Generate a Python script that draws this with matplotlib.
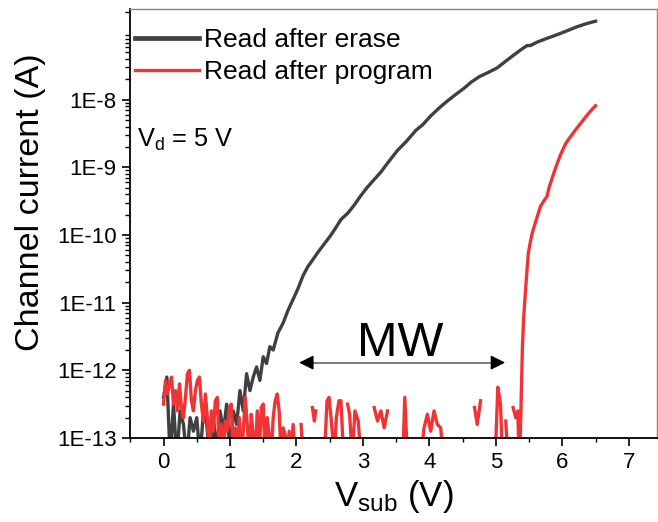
import numpy as np
import matplotlib.pyplot as plt
from matplotlib.lines import Line2D

plt.rcParams['font.family'] = ['Liberation Sans', 'DejaVu Sans']
plt.rcParams['mathtext.default'] = 'regular'

# read after erase: substrate voltage (V) and log10 of channel current (A)
erase_v = [0.00, 0.05, 0.10, 0.15, 0.20, 0.25, 0.30, 0.35, 0.40, 0.45, 0.50,
           0.55, 0.60, 0.65, 0.70, 0.75, 0.80, 0.85, 0.90, 0.95, 1.00, 1.05,
           1.10, 1.15, 1.20, 1.25, 1.30, 1.35, 1.40, 1.45, 1.50, 1.55, 1.60,
           1.65, 1.72, 1.80, 1.87, 1.95, 2.02, 2.10, 2.17, 2.25, 2.32, 2.42,
           2.52, 2.60, 2.67, 2.77, 2.86, 2.96, 3.07, 3.17, 3.27, 3.40, 3.52,
           3.65, 3.80, 3.90, 4.02, 4.15, 4.27, 4.40, 4.51, 4.63, 4.75, 4.88,
           5.02, 5.15, 5.27, 5.38, 5.47, 5.52, 5.62, 5.75, 5.92, 6.05, 6.20,
           6.35, 6.46, 6.50]
erase_log_i = [-12.4, -12.1, -13.3, -12.5, -13.3, -12.6, -12.8, -13.3, -12.7,
               -12.9, -12.7, -13.3, -12.6, -12.8, -13.3, -12.7, -13.2, -12.6,
               -12.9, -12.5, -13.2, -12.6, -12.8, -12.3, -12.6, -12.05, -12.3,
               -12.1, -11.95, -12.15, -11.8, -11.9, -11.65, -11.7, -11.45,
               -11.3, -11.12, -10.95, -10.8, -10.6, -10.47, -10.36, -10.26,
               -10.13, -10.0, -9.88, -9.77, -9.68, -9.57, -9.43, -9.29, -9.18,
               -9.07, -8.9, -8.75, -8.62, -8.45, -8.37, -8.24, -8.12, -8.02,
               -7.92, -7.84, -7.74, -7.66, -7.6, -7.53, -7.43, -7.34, -7.26,
               -7.2, -7.2, -7.15, -7.1, -7.04, -6.99, -6.93, -6.88, -6.85,
               -6.84]

# read after program (nan = negative current, not drawn on log axis)
program_v = [0.00, 0.03, 0.06, 0.09, 0.12, 0.15, 0.18, 0.21, 0.24, 0.27, 0.30,
             0.33, 0.36, 0.39, 0.42, 0.45, 0.48, 0.51, 0.54, 0.57, 0.60, 0.63,
             0.66, 0.69, 0.72, 0.75, 0.78, 0.81, 0.84, 0.87, 0.90, 0.93, 0.96,
             0.99, 1.02, 1.05, 1.08, 1.11, 1.14, 1.17, 1.20, 1.23, 1.26, 1.29,
             1.32, 1.35, 1.38, 1.41, 1.44, 1.47, 1.50, 1.53, 1.56, 1.59, 1.62,
             1.65, 1.68, 1.71, 1.74, 1.77, 1.80, 1.83, 1.86, 1.89, 1.92, 1.95,
             1.98, 2.01, 2.07, 2.10, 2.13, 2.18, 2.24, 2.27, 2.29, 2.33,
             2.42, 2.46, 2.49, 2.53, 2.57, 2.60, 2.64, 2.67, 2.71, 2.74,
             2.77, 2.80, 2.84, 2.88, 2.93, 2.97, 3.01, 3.12, 3.17, 3.22,
             3.27, 3.32, 3.37, 3.42, 3.57, 3.60, 3.63, 3.67, 3.71, 3.82,
             3.87, 3.92, 3.97, 4.02, 4.07, 4.12, 4.17, 4.21, 4.40, 4.65,
             4.68, 4.72, 4.77, 4.85, 4.99, 5.03, 5.07, 5.10, 5.13, 5.15, 5.18,
             5.21, 5.26, 5.30, 5.33, 5.35, 5.37, 5.38, 5.40, 5.42, 5.44, 5.47,
             5.49, 5.52, 5.55, 5.60, 5.67, 5.72, 5.77, 5.80, 5.86, 5.92, 5.97,
             6.05, 6.12, 6.22, 6.30, 6.38, 6.46, 6.50]
program_log_i = [-12.5, -12.15, -12.35, -12.2, -12.1, -12.5, -12.3, -12.6,
                 -12.2, -12.55, -12.7, -12.4, -12.05, -12.0, -12.45, -12.6,
                 -12.3, -12.15, -12.1, -12.5, -12.75, -12.35, -12.7, -13.3,
                 -12.6, -12.9, -12.45, -12.4, -13.3, -12.8, -13.3, -12.75,
                 -12.9, -12.55, -12.5, -13.3, -12.85, -13.3, -12.7, -13.3,
                 -12.9, -12.4, -12.8, -13.3, -12.65, -12.95, -13.3, -12.6,
                 -13.3, -12.55, -12.5, -13.3, -12.7, -12.95, -13.3, -12.7,
                 -12.45, -12.35, -12.6, -13.3, -12.85, -12.95, -13.3, -12.9,
                 -13.3, -12.8, -13.3, np.nan, -12.8, -13.3, np.nan,
                 np.nan, -12.55, -12.75, -12.6, np.nan,
                 -13.3, -12.45, -12.4, -12.8, -13.3, -12.7, -12.45, -12.45,
                 -13.3, np.nan, -12.5, -12.65, -13.3, -12.6, -12.75, -13.3,
                 np.nan, np.nan, -12.55, -12.75, -12.6, -12.85, -12.6, np.nan,
                 np.nan, -13.3, -12.4, -13.3, np.nan, np.nan, -13.3,
                 -12.85, -12.65, -12.9, -12.6, -12.8, -12.85, -13.3, np.nan,
                 np.nan, -12.55, -12.8, -12.45, np.nan, -13.3, -12.25, -12.5,
                 -13.3, np.nan, -12.75, -13.3, np.nan, -12.55, -12.7, -12.6,
                 -13.3, -12.9, -12.5, -11.65, -11.2, -10.91, -10.5, -10.26,
                 -10.1, -9.96, -9.8, -9.58, -9.5, -9.43, -9.3, -9.12, -8.95,
                 -8.82, -8.65, -8.55, -8.42, -8.32, -8.22, -8.13, -8.09]

mw_start = 2.04
mw_end = 5.14
mw_level = 1.3e-12

erase_color = '#404040'
program_color = '#f03434'

fig = plt.figure(figsize=(6.58, 5.22), dpi=100)
ax = fig.add_axes([0.198, 0.161, 0.800, 0.822])

ax.plot(erase_v, 10 ** np.array(erase_log_i), color=erase_color, lw=2.4)
ax.plot(program_v, 10 ** np.array(program_log_i), color=program_color, lw=2.4)

ax.set_yscale('log')
ax.set_xlim(-0.48, 7.42)
ax.set_ylim(1e-13, 2.2e-7)
ax.set_xticks(range(0, 8))
ax.set_xticks(np.arange(-0.5, 7.5, 0.5), minor=True)
ax.set_yticks([1e-13, 1e-12, 1e-11, 1e-10, 1e-9, 1e-8])
ax.set_yticklabels(['1E-13', '1E-12', '1E-11', '1E-10', '1E-9', '1E-8'])

ax.tick_params(which='major', direction='out', length=6, width=1.2,
               labelsize=16, pad=4)
ax.tick_params(which='minor', direction='out', length=3.5, width=1.0)
ax.tick_params(axis='x', which='minor', length=3)

for side in ['left', 'bottom']:
    ax.spines[side].set_linewidth(1.3)
for side in ['top', 'right']:
    ax.spines[side].set_color('#888888')
    ax.spines[side].set_linewidth(1.0)

ax.set_xlabel(r'V$_{sub}$ (V)', fontsize=25, labelpad=4)
ax.set_ylabel('Channel current (A)', fontsize=24.5)
ax.yaxis.set_label_coords(-0.16, 0.55)

# memory window arrow
ax.plot([mw_start + 0.15, mw_end - 0.15], [mw_level, mw_level],
        color='#666666', lw=1.2)
for tip, tail in [(mw_start, mw_start + 0.2), (mw_end, mw_end - 0.2)]:
    ax.annotate('', xy=(tip, mw_level), xytext=(tail, mw_level),
                arrowprops=dict(arrowstyle='-|>', color='black', lw=1.0,
                                mutation_scale=22, shrinkA=0, shrinkB=0))
ax.text((mw_start + mw_end) / 2 - 0.03, 1.6e-12, 'MW', fontsize=35,
        ha='center', va='baseline')

ax.text(0.012, 0.695, r'V$_d$ = 5 V', transform=ax.transAxes,
        fontsize=18.3, va='center', ha='left')

handles = [Line2D([], [], color=erase_color, lw=3.4),
           Line2D([], [], color=program_color, lw=2.4)]
ax.legend(handles, ['Read after erase', 'Read after program'],
          loc='upper left', bbox_to_anchor=(-0.012, 0.98), frameon=False,
          fontsize=19, handlelength=2.45, handletextpad=0.18,
          labelspacing=0.3, borderaxespad=0.1, borderpad=0.3)

fig.savefig('out.png', dpi=100)
